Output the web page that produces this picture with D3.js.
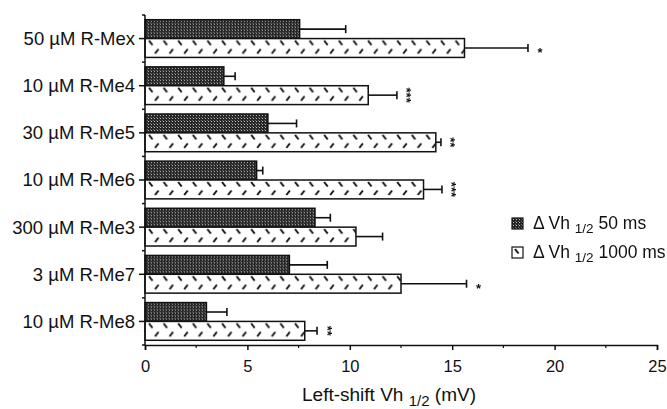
<!DOCTYPE html>
<html>
<head>
<meta charset="utf-8">
<script src="https://cdn.jsdelivr.net/npm/d3@7"></script>
<style>
  body { margin: 0; background: #fff; }
  text { font-family: "Liberation Sans", Arial, sans-serif; fill: #111; }
</style>
</head>
<body>
<div id="chart"></div>
<script>
const categories = ["50 µM R-Mex", "10 µM R-Me4", "30 µM R-Me5", "10 µM R-Me6", "300 µM R-Me3", "3 µM R-Me7", "10 µM R-Me8"]
const vh50 = [7.55, 3.85, 6.0, 5.45, 8.3, 7.05, 3.0]
const err50 = [2.25, 0.55, 1.4, 0.3, 0.75, 1.85, 1.0]
const vh1000 = [15.6, 10.9, 14.2, 13.6, 10.3, 12.5, 7.8]
const err1000 = [3.1, 1.4, 0.25, 0.9, 1.3, 3.2, 0.6]
const stars = ["*", "***", "**", "***", "", "*", "**"]
const xTicks = [0, 5, 10, 15, 20, 25]

const width = 667, height = 409
const margin = { top: 15, right: 10, bottom: 64, left: 145 }

const svg = d3.select("#chart").append("svg")
    .attr("width", width).attr("height", height)

const defs = svg.append("defs")

// stippled dark fill for the 50 ms bars
const dots = defs.append("pattern").attr("id", "dots")
    .attr("patternUnits", "userSpaceOnUse").attr("width", 3).attr("height", 3)
dots.append("rect").attr("width", 3).attr("height", 3).attr("fill", "#262626")
dots.append("rect").attr("x", 1).attr("y", 1).attr("width", 1).attr("height", 1).attr("fill", "#bdbdbd")
dots.append("rect").attr("x", 0).attr("y", 0).attr("width", 1).attr("height", 1).attr("fill", "#6a6a6a")

// dashed "herringbone" fill for the 1000 ms bars
const dash = defs.append("pattern").attr("id", "dash")
    .attr("patternUnits", "userSpaceOnUse").attr("width", 14.6).attr("height", 19)
dash.append("rect").attr("width", 14.6).attr("height", 19).attr("fill", "#fff")
dash.append("line").attr("x1", 3).attr("y1", 2).attr("x2", 6.5).attr("y2", 6.5)
    .attr("stroke", "#111").attr("stroke-width", 2)
dash.append("line").attr("x1", 12.5).attr("y1", 10.5).attr("x2", 9).attr("y2", 15)
    .attr("stroke", "#111").attr("stroke-width", 2)

// grey-only filter so the rotated stars don't pick up coloured fringes
defs.append("filter").attr("id", "grey")
    .append("feColorMatrix").attr("type", "saturate").attr("values", 0)

const x = d3.scaleLinear().domain([0, 25]).range([margin.left, 657])
const y = d3.scaleBand().domain(categories)
    .range([margin.top, 345]).paddingInner(0.2).paddingOuter(0.1)
const half = y.bandwidth() / 2

const series = [
    { vals: vh50, errs: err50, fill: "url(#dots)", off: 0 },
    { vals: vh1000, errs: err1000, fill: "url(#dash)", off: half }
]

series.forEach(s => {
    const g = svg.append("g").selectAll("g")
        .data(categories).enter().append("g")
        .attr("transform", (d, i) => `translate(0,${y(d) + s.off})`)
    g.append("line")
        .attr("x1", (d, i) => x(s.vals[i])).attr("x2", (d, i) => x(s.vals[i] + s.errs[i]))
        .attr("y1", half / 2).attr("y2", half / 2)
        .attr("stroke", "#111").attr("stroke-width", 1.6)
    g.append("line")
        .attr("x1", (d, i) => x(s.vals[i] + s.errs[i])).attr("x2", (d, i) => x(s.vals[i] + s.errs[i]))
        .attr("y1", half / 2 - 4).attr("y2", half / 2 + 4)
        .attr("stroke", "#111").attr("stroke-width", 1.6)
    g.append("rect")
        .attr("x", x(0)).attr("y", 0)
        .attr("width", (d, i) => x(s.vals[i]) - x(0))
        .attr("height", half)
        .attr("fill", s.fill)
        .attr("stroke", "#111").attr("stroke-width", 1.5)
})

// significance marks; "**" and "***" run vertically as in the figure
const sigG = svg.append("g").attr("filter", "url(#grey)")
categories.forEach((c, i) => {
    if (!stars[i]) return
    const sx = x(vh1000[i] + err1000[i]) + 12
    const sy = y(c) + half * 1.5
    const t = sigG.append("text")
        .attr("text-anchor", "middle")
        .style("font-size", "13px").style("font-weight", "bold")
        .text(stars[i])
    if (stars[i].length > 1) {
        t.attr("transform", `translate(${sx},${sy}) rotate(90)`).attr("dy", "0.5em")
    } else {
        t.attr("x", sx).attr("y", sy).attr("dy", "0.72em")
    }
})

// left axis
const yAxis = svg.append("g").attr("transform", `translate(${margin.left},0)`)
yAxis.append("line").attr("y1", margin.top).attr("y2", 345)
    .attr("stroke", "#111").attr("stroke-width", 1.5)
yAxis.selectAll(".sep").data(d3.range(categories.length + 1)).enter().append("line")
    .attr("x1", -3).attr("x2", 0)
    .attr("y1", i => margin.top + i * y.step()).attr("y2", i => margin.top + i * y.step())
    .attr("stroke", "#111").attr("stroke-width", 1.5)
yAxis.selectAll(".tk").data(categories).enter().append("line")
    .attr("x1", -6).attr("x2", 0)
    .attr("y1", d => y(d) + half).attr("y2", d => y(d) + half)
    .attr("stroke", "#111").attr("stroke-width", 1.5)
yAxis.selectAll(".lbl").data(categories).enter().append("text")
    .attr("x", -10).attr("y", d => y(d) + half)
    .attr("dy", "0.35em").attr("text-anchor", "end")
    .style("font-size", "18.5px")
    .text(d => d)

// bottom axis
const xAxis = svg.append("g").attr("transform", "translate(0,345)")
    .call(d3.axisBottom(x).tickValues(xTicks).tickSize(5).tickPadding(10))
xAxis.select(".domain").attr("stroke", "#111").attr("stroke-width", 1.5)
xAxis.selectAll(".tick line").attr("stroke", "#111").attr("stroke-width", 1.5)
xAxis.selectAll(".tick text").style("font-size", "16.5px").attr("fill", "#111")
xAxis.selectAll(".minor").data(d3.range(2.5, 25, 5)).enter().append("line")
    .attr("x1", d => x(d)).attr("x2", d => x(d)).attr("y1", 0).attr("y2", 3)
    .attr("stroke", "#111").attr("stroke-width", 1.2)

const xTitle = svg.append("text").attr("x", 302).attr("y", 401).style("font-size", "19px")
xTitle.append("tspan").text("Left-shift Vh ")
xTitle.append("tspan").attr("dy", 5).style("font-size", "15px").text("1/2")
xTitle.append("tspan").attr("dy", -5).text(" (mV)")

// legend
const legendItems = [
    { fill: "url(#dots)", label: "50 ms" },
    { fill: "url(#dash)", label: "1000 ms" }
]
const lg = svg.append("g").attr("transform", "translate(512,218)")
legendItems.forEach((d, i) => {
    const row = lg.append("g").attr("transform", `translate(0,${i * 29})`)
    row.append("rect").attr("width", 11).attr("height", 11)
        .attr("fill", d.fill).attr("stroke", "#111").attr("stroke-width", 1.2)
    const t = row.append("text").attr("x", 21).attr("y", 11).style("font-size", "17.5px")
    t.append("tspan").text("Δ Vh ")
    t.append("tspan").attr("dy", 4).style("font-size", "13.5px").text("1/2")
    t.append("tspan").attr("dy", -4).text(" " + d.label)
})
</script>
</body>
</html>
